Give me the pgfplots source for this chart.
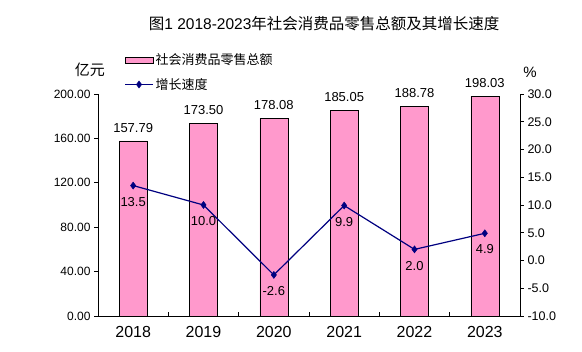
\documentclass[border=0pt]{standalone}
\usepackage{pgfplots}
\pgfplotsset{compat=1.18}
\usepackage{fontspec}
\setmainfont{Liberation Sans}
\newfontfamily\cjk{Noto Sans CJK SC}
\definecolor{barpink}{RGB}{255,153,204}
\definecolor{navyline}{RGB}{0,0,128}
\pgfplotsset{
  barlegend/.style={legend image code/.code={\draw[fill=barpink, draw=black, line width=0.6pt] (0pt,-3pt) rectangle (28pt,3pt);}},
  linelegend/.style={legend image code/.code={\draw[mark repeat=2, mark phase=2, ##1] plot coordinates {(0pt,0pt) (14pt,0pt) (28pt,0pt)};}},
}
\begin{document}
\begin{tikzpicture}
\path[use as bounding box] (0pt,0pt) rectangle (582pt,352pt);
\begin{axis}[
  at={(98pt,36pt)}, anchor=south west, scale only axis,
  width=422pt, height=222pt,
  xmin=-0.5, xmax=5.5, ymin=0, ymax=200,
  axis x line*=bottom, axis y line*=left,
  axis line style={-, black, line width=0.8pt},
  xtick={0,...,5}, xticklabels={2018,2019,2020,2021,2022,2023},
  minor x tick num=1,
  tick align=outside,
  major tick length=4pt, minor tick length=4pt,
  major x tick style={draw=none},
  minor x tick style={black, line width=0.8pt, yshift=4pt},
  ytick={0,40,...,200},
  ytick style={black, line width=0.8pt},
  /pgf/number format/assume math mode=true,
  yticklabel style={font=\fontsize{12}{14}\selectfont, /pgf/number format/fixed, /pgf/number format/fixed zerofill, /pgf/number format/precision=2},
  xticklabel style={font=\fontsize{16}{18}\selectfont, yshift=-3pt},
  clip=false,
]
\addplot[ybar, bar width=28pt, fill=barpink, draw=black, line width=0.6pt,
  point meta=explicit symbolic, nodes near coords,
  every node near coord/.append style={font=\fontsize{13}{15}\selectfont, anchor=south, yshift=5pt, black}]
  coordinates {(0,157.79)[157.79] (1,173.50)[173.50] (2,178.08)[178.08] (3,185.05)[185.05] (4,188.78)[188.78] (5,198.03)[198.03]};
\node[font=\fontsize{15.5}{17}\selectfont] at (axis description cs:0.536,1.315) {{\cjk 图}1 2018-2023{\cjk 年社会消费品零售总额及其增长速度}};
\node[font=\cjk\fontsize{15}{17}\selectfont] at (axis description cs:-0.019,1.108) {亿元};
\node[font=\fontsize{15}{17}\selectfont] at (axis description cs:1.024,1.099) {\%};
\end{axis}
\begin{axis}[
  at={(98pt,36pt)}, anchor=south west, scale only axis,
  width=422pt, height=222pt,
  xmin=-0.5, xmax=5.5, ymin=-10, ymax=30,
  axis x line=none, axis y line*=right,
  axis line style={-, black, line width=0.8pt},
  ytick={-10,-5,...,30}, tick align=outside, major tick length=4pt,
  ytick style={black, line width=0.8pt},
  /pgf/number format/assume math mode=true,
  yticklabel style={font=\fontsize{12.5}{14}\selectfont, /pgf/number format/fixed, /pgf/number format/fixed zerofill, /pgf/number format/precision=1},
  legend style={draw=none, fill=none, at={(axis description cs:0.055,1.20)}, anchor=north west,
    font=\cjk\fontsize{13}{15}\selectfont, row sep=8pt, cells={anchor=west}},
  legend cell align=left,
  clip=false,
]
\addlegendimage{barlegend}
\addlegendentry{社会消费品零售总额}
\addplot[navyline, line width=1.2pt, mark=diamond*, mark size=3.5pt, mark options={fill=navyline, line width=0.5pt},
  point meta=explicit symbolic, nodes near coords,
  every node near coord/.append style={font=\fontsize{13}{15}\selectfont, anchor=north, yshift=-8pt, black},
  linelegend]
  coordinates {(0,13.5)[13.5] (1,10.0)[10.0] (2,-2.6)[-2.6] (3,9.9)[9.9] (4,2.0)[2.0] (5,4.9)[4.9]};
\addlegendentry{增长速度}
\end{axis}
\end{tikzpicture}
\end{document}
